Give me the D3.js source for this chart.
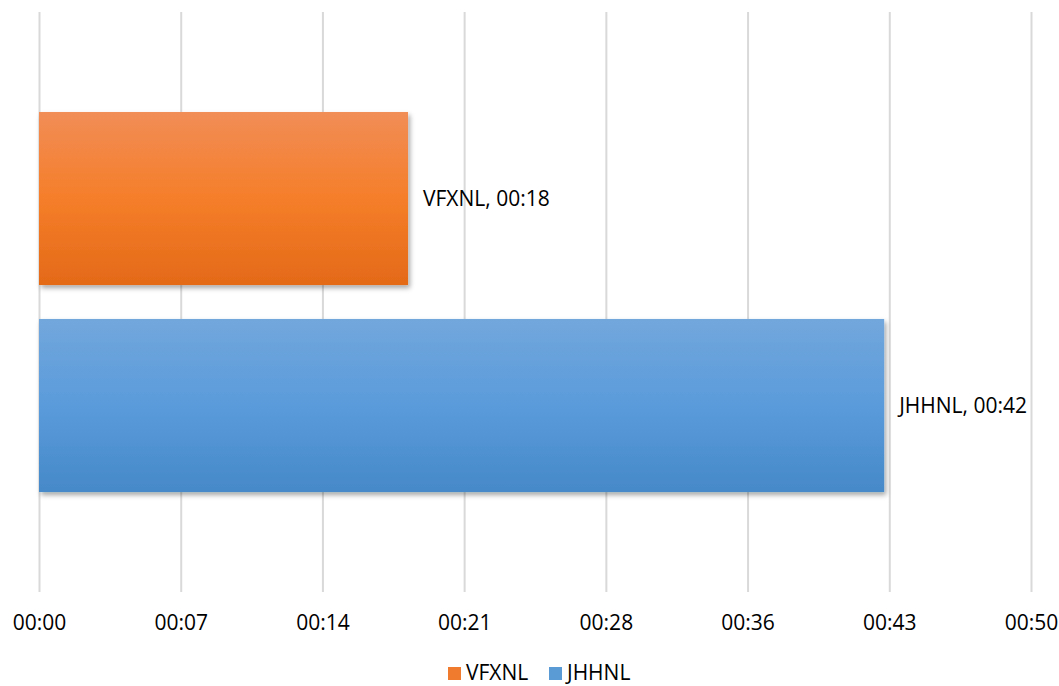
<!DOCTYPE html>
<html>
<head>
<meta charset="utf-8">
<script src="https://cdn.jsdelivr.net/npm/d3@7"></script>
<style>
  body { margin: 0; background: #fff; }
  text { font-family: "Open Sans", sans-serif; fill: #000; }
</style>
</head>
<body>
<div class="forSvg"></div>
<script>
// -DATA-
const series = ["VFXNL", "JHHNL"];
// seconds
const values = [18.6, 42.6];
const dataLabels = ["00:18", "00:42"];
const tickValues = [0, 50 / 7, 100 / 7, 150 / 7, 200 / 7, 250 / 7, 300 / 7, 50];
const tickLabels = ["00:00", "00:07", "00:14", "00:21", "00:28", "00:36", "00:43", "00:50"];

// gradient stops per series: top, middle, bottom
const gradStops = [
  ["#f18d56", "#f57e2a", "#e46a18"],
  ["#72a7dc", "#5a9bdb", "#4689c9"]
];
const legendColors = ["#f07b2e", "#5b9bd5"];

// -SIZES-
const svg_w = 1059;
const svg_h = 686;
const plotTop = 12;
const plotBottom = 592;

const svg = d3.select(".forSvg")
  .append("svg")
  .attr("width", svg_w)
  .attr("height", svg_h);

// -SCALES-
const xScale = d3.scaleLinear()
  .domain([0, 50])
  .range([39, 1031]);

const yScale = d3.scaleBand()
  .domain(series)
  .range([plotTop, plotBottom])
  .paddingInner(0.164)
  .paddingOuter(0.483);

// -DEFS- gradients and shadow
const defs = svg.append("defs");
series.forEach((s, i) => {
  const g = defs.append("linearGradient")
    .attr("id", "grad" + i)
    .attr("x1", 0).attr("y1", 0)
    .attr("x2", 0).attr("y2", 1);
  g.append("stop").attr("offset", "0%").attr("stop-color", gradStops[i][0]);
  g.append("stop").attr("offset", "50%").attr("stop-color", gradStops[i][1]);
  g.append("stop").attr("offset", "100%").attr("stop-color", gradStops[i][2]);
});

defs.append("filter")
  .attr("id", "shadow")
  .attr("x", "-5%").attr("y", "-10%")
  .attr("width", "115%").attr("height", "130%")
  .append("feDropShadow")
  .attr("dx", 2).attr("dy", 3)
  .attr("stdDeviation", 2.5)
  .attr("flood-color", "#000")
  .attr("flood-opacity", 0.35);

// -GRIDLINES-
const xAxis = d3.axisBottom(xScale)
  .tickValues(tickValues)
  .tickSize(-(plotBottom - plotTop))
  .tickFormat((d, i) => tickLabels[i]);

const axisG = svg.append("g")
  .attr("transform", "translate(0," + plotBottom + ")")
  .call(xAxis);

axisG.select(".domain").remove();
axisG.selectAll(".tick line")
  .attr("stroke", "#d9d9d9")
  .attr("stroke-width", 2);
axisG.selectAll(".tick text")
  .attr("y", 38)
  .attr("dy", 0)
  .attr("font-size", "21px")
  .attr("font-family", "Open Sans, sans-serif")
  .attr("fill", "#000");

// -BARS-
svg.selectAll("rect.bar")
  .data(series)
  .enter()
  .append("rect")
  .attr("class", "bar")
  .attr("x", xScale(0))
  .attr("y", d => yScale(d))
  .attr("width", (d, i) => xScale(values[i]) - xScale(0))
  .attr("height", yScale.bandwidth())
  .attr("fill", (d, i) => "url(#grad" + i + ")")
  .attr("filter", "url(#shadow)");

// -DATA LABELS-
svg.selectAll("text.label")
  .data(series)
  .enter()
  .append("text")
  .attr("class", "label")
  .attr("x", (d, i) => xScale(values[i]) + 15)
  .attr("y", d => yScale(d) + yScale.bandwidth() / 2)
  .attr("dy", "0.35em")
  .attr("font-size", "21px")
  .text((d, i) => d + ", " + dataLabels[i]);

// -LEGEND-
const legendX = [448, 549];
const legend = svg.append("g");
series.forEach((s, i) => {
  legend.append("rect")
    .attr("x", legendX[i])
    .attr("y", 667)
    .attr("width", 13)
    .attr("height", 13)
    .attr("fill", legendColors[i]);
  legend.append("text")
    .attr("x", legendX[i] + 18)
    .attr("y", 680)
    .attr("font-size", "21px")
    .text(s);
});
</script>
</body>
</html>
